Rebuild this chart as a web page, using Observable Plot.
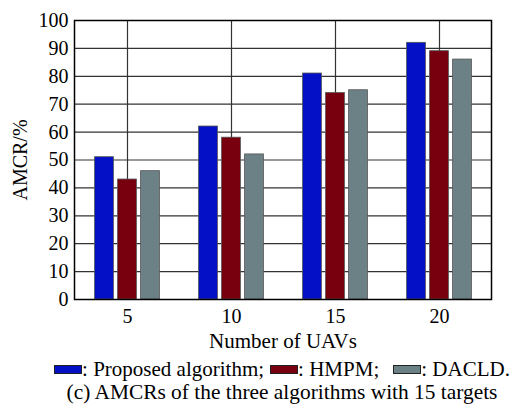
<!DOCTYPE html>
<html>
<head>
<meta charset="utf-8">
<script src="https://cdn.jsdelivr.net/npm/d3@7"></script>
<script src="https://cdn.jsdelivr.net/npm/@observablehq/plot@0.6"></script>
<style>
  body { margin: 0; background: #fff; }
  #wrap { width: 512px; font-family: "Liberation Serif", "Times New Roman", serif; color: #000; }
  #wrap svg, #wrap svg text { font-family: "Liberation Serif", "Times New Roman", serif !important; }
  .legend, .caption { width: 460px; margin-left: 52px; text-align: center; white-space: nowrap; }
  .legend { font-size: 21px; line-height: 22px; margin-top: 2px; }
  .caption { font-size: 21.4px; line-height: 24px; }
  .sw { display: inline-block; width: 26px; height: 7px; border: 1px solid #222; vertical-align: 2px; }
  .gap1 { display: inline-block; width: 6px; }
  .gap2 { display: inline-block; width: 14px; }
</style>
</head>
<body>
<div id="wrap"></div>
<script>
// Number of UAVs (x categories)
const categories = ["5", "10", "15", "20"];
// AMCR (%) for each algorithm
const proposed = [51, 62, 81, 92];
const hmpm = [43, 58, 74, 89];
const dacld = [46, 52, 75, 86];
const seriesNames = ["Proposed algorithm", "HMPM", "DACLD"];
const seriesColors = ["#0410c6", "#78000e", "#6c8186"];
const yTicks = [0, 10, 20, 30, 40, 50, 60, 70, 80, 90, 100];

const font = "Liberation Serif, Times New Roman, serif";
const seriesValues = [proposed, hmpm, dacld];
const offsets = [-23, 0, 23];

const bars = seriesValues.map((vals, s) =>
  Plot.barY(categories.map((c, i) => ({c, v: vals[i]})), {
    x: "c", y: "v",
    fill: seriesColors[s],
    stroke: "#555", strokeWidth: 0.8,
    dx: offsets[s],
    insetLeft: 42.6, insetRight: 42.6
  })
);

const chart = Plot.plot({
  width: 512,
  height: 356,
  marginTop: 20,
  marginRight: 21,
  marginBottom: 57,
  marginLeft: 74,
  style: {fontFamily: font, fontSize: "20px", color: "#000", background: "#fff"},
  x: {domain: categories, padding: 0},
  y: {domain: [0, 100]},
  marks: [
    Plot.gridY(yTicks, {stroke: "#333", strokeOpacity: 1, strokeWidth: 1.2}),
    Plot.gridX({stroke: "#333", strokeOpacity: 1, strokeWidth: 1.2}),
    ...bars,
    Plot.frame({stroke: "#000", strokeWidth: 1.5}),
    Plot.axisY(yTicks, {tickSize: 0, tickPadding: 6, label: null, fontSize: 20}),
    Plot.axisX({tickSize: 0, tickPadding: 9, label: null, fontSize: 20}),
    Plot.text(["AMCR/%"], {
      frameAnchor: "left", dx: -54, rotate: -90,
      textAnchor: "middle", lineAnchor: "middle", fontSize: 20, text: d => d
    }),
    Plot.text(["Number of UAVs"], {
      frameAnchor: "bottom", dy: 42,
      textAnchor: "middle", lineAnchor: "middle", fontSize: 21, text: d => d
    })
  ]
});

const wrap = document.getElementById("wrap");
wrap.appendChild(chart);

const legend = document.createElement("div");
legend.className = "legend";
seriesNames.forEach((name, i) => {
  const sw = document.createElement("span");
  sw.className = "sw";
  sw.style.background = seriesColors[i];
  legend.appendChild(sw);
  legend.appendChild(document.createTextNode(": " + name + (i < seriesNames.length - 1 ? ";" : ".")));
  if (i < seriesNames.length - 1) {
    const gap = document.createElement("span");
    gap.className = i === 0 ? "gap1" : "gap2";
    legend.appendChild(gap);
  }
});
wrap.appendChild(legend);

const caption = document.createElement("div");
caption.className = "caption";
caption.textContent = "(c) AMCRs of the three algorithms with 15 targets";
wrap.appendChild(caption);
</script>
</body>
</html>
